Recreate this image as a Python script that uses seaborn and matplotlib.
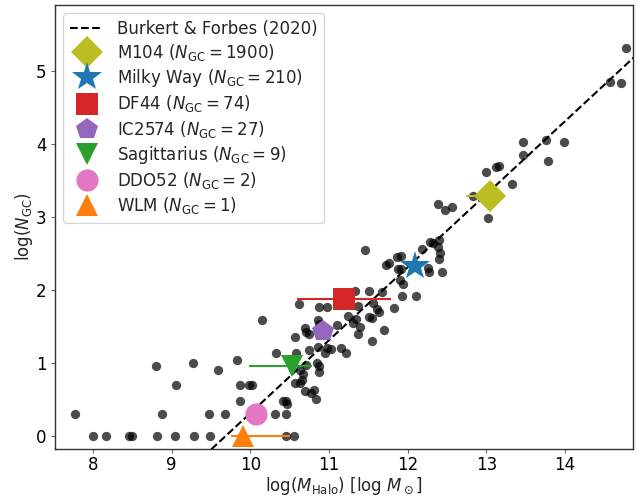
import numpy as np
import pandas as pd
import matplotlib
matplotlib.use("Agg")
import matplotlib.pyplot as plt
import seaborn as sns

# ---- data: catalogue galaxies (log M_halo, log N_GC) ----
log_mhalo = [7.78, 8.00, 8.17, 8.46, 8.50, 8.82, 9.05, 9.28, 9.49, 8.80,
             9.27, 9.06, 8.88, 9.48, 9.68, 9.83, 9.59, 9.87, 9.99, 10.02,
             9.87, 10.15, 10.31, 10.46, 10.45, 10.56, 10.42, 10.46, 10.47, 10.33,
             10.58, 10.74, 10.86, 10.95, 10.98, 11.03, 11.15, 11.21, 10.85, 10.87,
             10.87, 10.71, 10.63, 10.67, 10.63, 10.57, 10.66, 10.69, 10.77, 10.81,
             10.83, 10.57, 10.62, 10.87, 10.97, 10.86, 10.87, 10.69, 10.71, 10.75,
             11.10, 11.33, 11.51, 11.67, 11.56, 11.37, 11.61, 11.64, 11.51, 11.55,
             11.24, 11.34, 11.31, 11.39, 11.37, 11.70, 11.55, 11.46, 11.72, 11.76,
             11.86, 11.92, 11.88, 11.92, 11.90, 11.94, 11.93, 12.11, 11.82, 12.18,
             12.28, 12.32, 12.40, 12.38, 12.41, 12.40, 12.43, 12.26, 12.27, 12.39,
             12.47, 12.56, 12.83, 13.02, 13.00, 13.33, 13.12, 13.16, 13.46, 13.47,
             13.76, 13.78, 13.98, 14.57, 14.71, 14.77]
log_ngc = [0.30, 0.00, 0.00, 0.00, 0.00, 0.00, 0.00, 0.00, 0.00, 0.95,
           1.00, 0.70, 0.30, 0.30, 0.30, 1.04, 0.90, 0.70, 0.70, 0.70,
           0.48, 1.58, 0.30, 0.30, 0.00, 0.00, 0.48, 0.48, 0.43, 1.14,
           1.13, 1.18, 1.22, 1.14, 1.20, 1.19, 1.20, 1.13, 1.00, 0.96,
           0.88, 0.97, 0.90, 0.85, 0.73, 0.72, 0.76, 0.61, 0.59, 0.63,
           0.50, 1.35, 1.80, 1.77, 1.77, 1.58, 1.53, 1.47, 1.42, 1.40,
           1.52, 1.98, 1.99, 1.97, 1.82, 1.78, 1.73, 1.69, 1.63, 1.62,
           1.64, 1.60, 1.54, 1.49, 1.40, 1.45, 1.30, 2.54, 2.34, 2.37,
           2.45, 2.46, 2.29, 2.28, 2.14, 2.08, 1.91, 1.91, 1.75, 2.56,
           2.66, 2.64, 2.68, 2.59, 2.50, 2.42, 2.24, 2.30, 2.24, 3.18,
           3.09, 3.14, 3.28, 2.98, 3.61, 3.45, 3.68, 3.69, 3.84, 4.03,
           4.05, 3.76, 4.02, 4.84, 4.83, 5.31]

# ---- highlighted galaxies ----
names = ["M104", "Milky Way", "DF44", "IC2574", "Sagittarius", "DDO52", "WLM"]
ngc_values = [1900, 210, 74, 27, 9, 2, 1]
gal_logm = [13.04, 12.09, 11.19, 10.92, 10.53, 10.07, 9.91]
gal_xerr_lo = [0.30, 0.0, 0.60, 0.0, 0.54, 0.0, 0.15]
gal_xerr_hi = [0.02, 0.0, 0.60, 0.0, 0.25, 0.0, 0.60]
gal_markers = ["D", "*", "s", "p", "v", "o", "^"]
gal_colors = ["tab:olive", "tab:blue", "tab:red", "tab:purple",
              "tab:green", "tab:pink", "tab:orange"]

# ---- relation: Burkert & Forbes (2020) ----
rel_offset = 9.69
rel_x = [9.3, 15.0]

sns.set_theme(style="ticks")
plt.rcParams.update({
    "font.family": ["DejaVu Sans"],
    "font.size": 12,
    "axes.labelsize": 12,
    "xtick.labelsize": 12,
    "ytick.labelsize": 12,
    "legend.fontsize": 12,
    "axes.edgecolor": "#333333",
    "axes.linewidth": 1.0,
    "axes.labelpad": 0.5,
    "xtick.color": "#666666",
    "ytick.color": "#666666",
    "xtick.labelcolor": "black",
    "ytick.labelcolor": "black",
    "xtick.major.size": 3.0,
    "ytick.major.size": 3.0,
    "xtick.major.width": 0.8,
    "ytick.major.width": 0.8,
    "xtick.major.pad": 2.0,
    "ytick.major.pad": 3.0,
})

fig = plt.figure(figsize=(6.38, 4.96), dpi=100)
ax = fig.add_axes([0.0862, 0.0948, 0.9058, 0.8952])

df = pd.DataFrame({"logM": log_mhalo, "logN": log_ngc})
sns.scatterplot(data=df, x="logM", y="logN", ax=ax, color="black",
                alpha=0.7, s=45, linewidth=0, legend=False, zorder=2)

rel_df = pd.DataFrame({"x": rel_x, "y": [v - rel_offset for v in rel_x]})
ax.plot(rel_df["x"], rel_df["y"], color="black", ls="--", lw=1.5,
        label="Burkert & Forbes (2020)", zorder=3)

for i, name in enumerate(names):
    ly = np.log10(ngc_values[i])
    if gal_xerr_lo[i] > 0 or gal_xerr_hi[i] > 0:
        ax.errorbar(gal_logm[i], ly,
                    xerr=[[gal_xerr_lo[i]], [gal_xerr_hi[i]]],
                    fmt="none", ecolor=gal_colors[i], elinewidth=1.5,
                    capsize=0, zorder=4)
    ms = 22 if gal_markers[i] == "*" else 16
    ax.plot(gal_logm[i], ly, ls="none", marker=gal_markers[i],
            color=gal_colors[i], markersize=ms, markeredgewidth=0,
            label=rf"{name} ($N_{{\rm GC}} = {ngc_values[i]}$)", zorder=5)

ax.set_xlim(7.52, 14.86)
ax.set_ylim(-0.18, 5.9)
ax.set_xticks([8, 9, 10, 11, 12, 13, 14])
ax.set_yticks([0, 1, 2, 3, 4, 5])
ax.set_xlabel(r"log($M_{\rm Halo}$) [log $M_\odot$]")
ax.set_ylabel(r"log($N_{\rm GC}$)")
ax.legend(loc="upper left", frameon=True, labelspacing=0.25)

fig.savefig("out.png", dpi=100)
